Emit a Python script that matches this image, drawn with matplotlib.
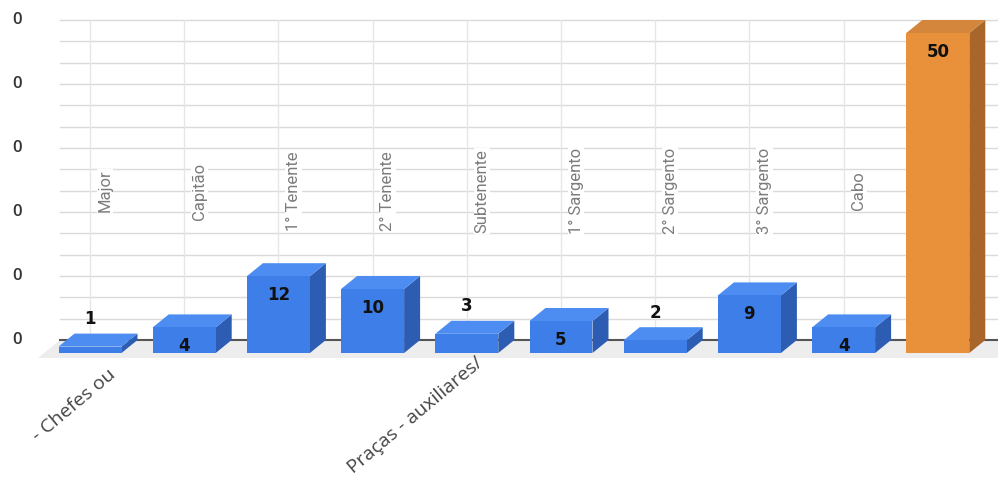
import matplotlib
matplotlib.use("Agg")
import matplotlib.pyplot as plt
from matplotlib.patches import Polygon
import numpy as np

# ---- data ----
categories = ["Major", "Capitão", "1° Tenente", "2° Tenente", "Subtenente",
              "1° Sargento", "2° Sargento", "3° Sargento", "Cabo", ""]
values = [1, 4, 12, 10, 3, 5, 2, 9, 4, 50]
bar_colors = ["blue"] * 9 + ["orange"]
group_labels = ["- Chefes ou", "Praças - auxiliares/"]
ytick_labels = ["0", "0", "0", "0", "0", "0"]
ytick_values = [0, 10, 20, 30, 40, 50]

# ---- style ----
W, H = 998, 482
fig = plt.figure(figsize=(W / 100, H / 100), dpi=100)
ax = fig.add_axes([0, 0, 1, 1])
px_x = 94.2          # pixels per category
px_y = 6.4           # pixels per value unit
x0_px, y0_px = 90, 353
ax.set_xlim((0 - x0_px) / px_x, (W - x0_px) / px_x)
ax.set_ylim((y0_px - H) / px_y, y0_px / px_y)
ax.axis("off")

dx = 16 / px_x       # depth offset (x)
dy = 13 / px_y       # depth offset (y)
bw = 63 / px_x       # bar front width

palette = {
    "blue": ("#3d7ee8", "#4d8cf0", "#2c5db3"),
    "orange": ("#e8913a", "#d4873c", "#a9662b"),
}

xmin_wall = (60 - x0_px) / px_x
xmax = (W - x0_px) / px_x

# floor
floor_front = -0.8
ax.add_patch(Polygon([(xmin_wall - 0.23, floor_front), (xmax + 1, floor_front),
                      (xmax + 1, dy), (xmin_wall, dy)],
                     closed=True, facecolor="#ededed", edgecolor="none", zorder=1))

# back wall gridlines
for g in np.arange(10 / 3, 50.01 + 10 / 3, 10 / 3):
    ax.plot([xmin_wall, xmax + 1], [dy + g, dy + g], color="#dadada", lw=1, zorder=0.5)
for i in range(len(values)):
    ax.plot([i, i], [dy, dy + 50], color="#e6e6e6", lw=1, zorder=0.5)
# axis baseline
ax.plot([xmin_wall, xmax + 1], [dy, dy], color="#555555", lw=1.5, zorder=1.5)

# y tick labels (left part cropped in reference)
for v, lab in zip(ytick_values, ytick_labels):
    ax.text((17 - x0_px) / px_x, dy + v, lab, ha="center", va="center",
            fontsize=12, color="#333333", family="Open Sans", fontweight="semibold")

# category labels
for i, c in enumerate(categories):
    if c:
        ax.text(i + 0.16, 25.3, c, rotation=90, ha="center", va="center",
                fontsize=12, color="#7c7c7c", family="Roboto",
                bbox=dict(facecolor="white", edgecolor="none", pad=0.5), zorder=0.8)

# bars
for i, (v, col) in enumerate(zip(values, bar_colors)):
    front, top, side = palette[col]
    l, r = i - bw / 2, i + bw / 2
    ax.add_patch(Polygon([(r, 0), (r + dx, dy), (r + dx, v + dy), (r, v)],
                         closed=True, facecolor=side, edgecolor="none", zorder=3))
    ax.add_patch(Polygon([(l, v), (r, v), (r + dx, v + dy), (l + dx, v + dy)],
                         closed=True, facecolor=top, edgecolor="none", zorder=3))
    ax.add_patch(Polygon([(l, 0), (r, 0), (r, v), (l, v)],
                         closed=True, facecolor=front, edgecolor="none", zorder=3))
    if v >= 4:
        ax.annotate(str(v), (i, v), xytext=(0, -7), textcoords="offset points",
                    ha="center", va="top", fontsize=12, fontweight="bold",
                    color="#111111", family="DejaVu Sans", zorder=4)
    else:
        ax.annotate(str(v), (i, v + dy), xytext=(0, 4), textcoords="offset points",
                    ha="center", va="bottom", fontsize=12, fontweight="bold",
                    color="#111111", family="DejaVu Sans", zorder=4)

# group labels (rotated)
ax.text(0.25, -3.1, group_labels[0], rotation=40, rotation_mode="anchor",
        ha="right", va="center", fontsize=14, color="#444444", family="Open Sans")
ax.text(4.15, -1.2, group_labels[1], rotation=40, rotation_mode="anchor",
        ha="right", va="center", fontsize=14, color="#444444", family="Open Sans")

fig.savefig("out.png", dpi=100, facecolor="white")
